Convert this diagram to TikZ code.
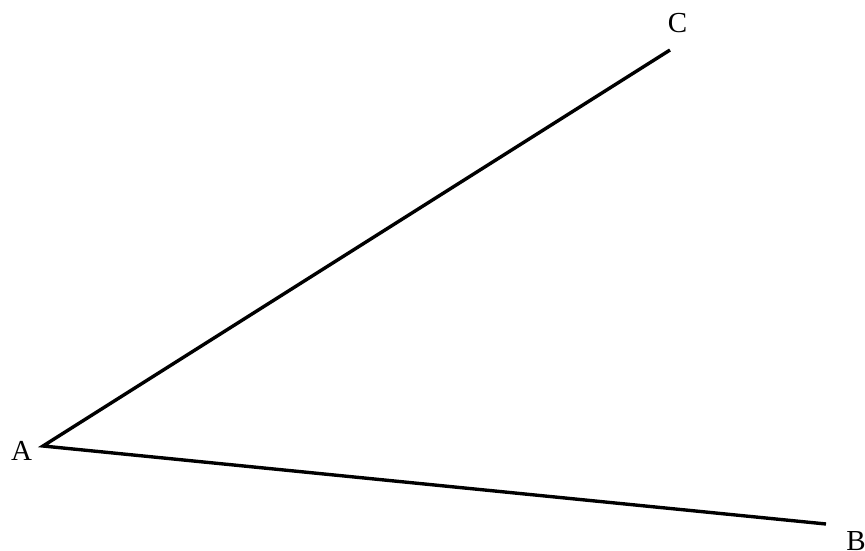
\documentclass[tikz,border=0pt]{standalone}
\usepackage{fontspec}
\setmainfont{Liberation Serif}
\begin{document}
\begin{tikzpicture}[x=1pt,y=-1pt,
  lbl/.style={inner sep=0pt,font=\fontsize{29}{32}\selectfont},
  side/.style={line width=3.4pt,line join=miter}]
\useasboundingbox (0,0) rectangle (865,551);
\coordinate (A) at (43,446);
\coordinate (B) at (826,524);
\coordinate (C) at (670,50);
\draw[side] (C) -- (A) -- (B);
\node[lbl] (la) at (21.5,451) {A};
\node[lbl] (lc) at (677.5,23.5) {C};
\node[lbl] (lb) at (856,541.5) {B};
\end{tikzpicture}
\end{document}
